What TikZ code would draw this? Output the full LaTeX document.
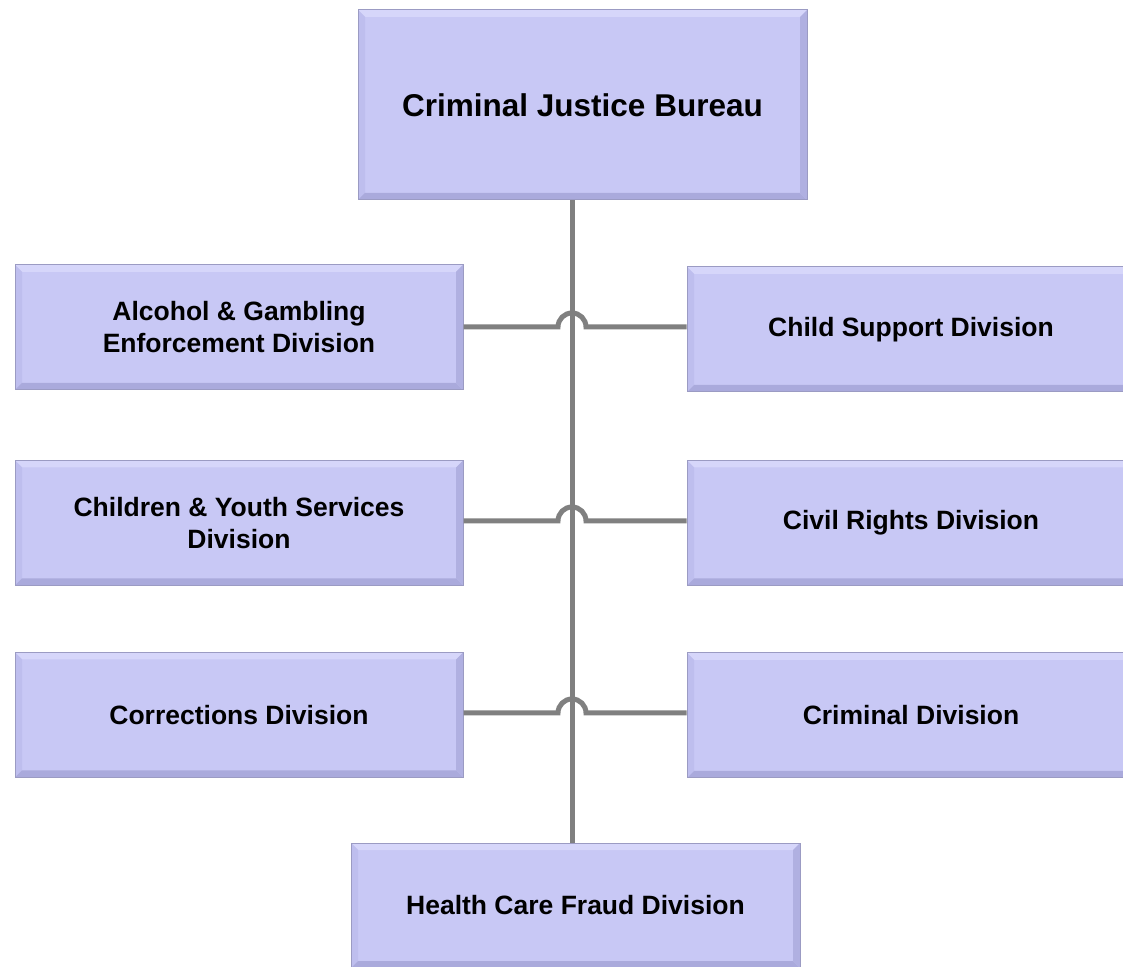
\documentclass[tikz,border=0pt]{standalone}
\usepackage{fontspec}
\setmainfont{Liberation Sans}
\definecolor{boxfill}{RGB}{200,200,245}
\definecolor{bevlight}{RGB}{214,214,250}
\definecolor{bevside}{RGB}{190,190,238}
\definecolor{bevdark}{RGB}{170,170,220}
\definecolor{boxedge}{RGB}{155,155,195}
\definecolor{linegray}{RGB}{128,128,128}
\tikzset{
  orgbox/.style={rectangle, fill=boxfill, draw=boxedge, line width=1pt,
    minimum width=448pt, minimum height=125pt, inner sep=0pt, align=center,
    font=\bfseries\fontsize{26.5}{32}\selectfont,
    path picture={
      \fill[bevlight] (path picture bounding box.north west) -- (path picture bounding box.north east)
        -- ([shift={(-7pt,-7pt)}]path picture bounding box.north east) -- ([shift={(7pt,-7pt)}]path picture bounding box.north west) -- cycle;
      \fill[bevside] (path picture bounding box.north west) -- ([shift={(7pt,-7pt)}]path picture bounding box.north west)
        -- ([shift={(7pt,7pt)}]path picture bounding box.south west) -- (path picture bounding box.south west) -- cycle;
      \fill[bevdark] (path picture bounding box.south west) -- ([shift={(7pt,7pt)}]path picture bounding box.south west)
        -- ([shift={(-7pt,7pt)}]path picture bounding box.south east) -- (path picture bounding box.south east) -- cycle;
      \fill[bevdark!80!boxfill] (path picture bounding box.north east) -- ([shift={(-7pt,-7pt)}]path picture bounding box.north east)
        -- ([shift={(-7pt,7pt)}]path picture bounding box.south east) -- (path picture bounding box.south east) -- cycle;
    }},
  topbox/.style={orgbox, minimum width=449pt, minimum height=190pt, font=\bfseries\fontsize{31.5}{38}\selectfont},
  conn/.style={draw=linegray, line width=5pt}
}
\begin{document}
\begin{tikzpicture}[x=1pt,y=1pt]
\useasboundingbox (0,0) rectangle (1123,966);
\clip (0,0) rectangle (1123,966);
\node[topbox] (cjb) at (582.5,861) {Criminal Justice Bureau};
\node[orgbox] (agd) at (239,638.5) {Alcohol \& Gambling\\Enforcement Division};
\node[orgbox] (csd) at (911,636.5) {Child Support Division};
\node[orgbox] (cys) at (239,443) {Children \& Youth Services\\Division};
\node[orgbox] (crd) at (911,443) {Civil Rights Division};
\node[orgbox] (cod) at (239,251) {Corrections Division};
\node[orgbox] (cri) at (911,250.5) {Criminal Division};
\node[orgbox, minimum width=449pt] (hcf) at (575.5,60.5) {Health Care Fraud Division};
\coordinate (vt) at (572,0);
\draw[conn] (cjb.south -| vt) -- (hcf.north -| vt);
\draw[conn] (agd.east |- 0,639) -- (558,639) arc[start angle=180, end angle=0, radius=14pt] -- (csd.west |- 0,639);
\draw[conn] (cys.east |- 0,445) -- (558,445) arc[start angle=180, end angle=0, radius=14pt] -- (crd.west |- 0,445);
\draw[conn] (cod.east |- 0,253) -- (558,253) arc[start angle=180, end angle=0, radius=14pt] -- (cri.west |- 0,253);
\end{tikzpicture}
\end{document}
